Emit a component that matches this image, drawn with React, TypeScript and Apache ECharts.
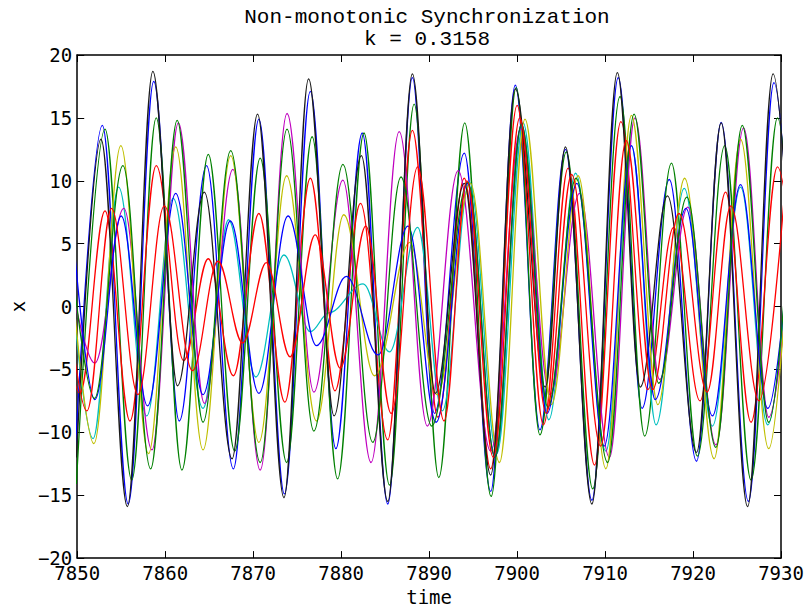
import React, { useEffect, useRef } from "react";
import * as echarts from "echarts";

const titleLines = ["Non-monotonic Synchronization", "k = 0.3158"];
const xName = "time";
const yName = "x";
const xRange = [7850, 7930];
const yRange = [-20, 20];

// extrema of each oscillator: [time, x]
const blue1: [number, number][] = [[7849.7,-12.5],[7852.86,14.4],[7855.8,-15.7],[7858.7,17.9],[7861.6,-9.1],[7864.7,11.2],[7867.75,-12.9],[7870.65,14.9],[7873.55,-14.9],[7876.5,17.1],[7879.4,-11.3],[7882.4,13.8],[7885.3,-15.7],[7888.1,18.2],[7890.6,-8.5],[7894.0,12.2],[7897.0,-14.7],[7899.8,17.6],[7902.6,-9.8],[7905.5,12.5],[7908.5,-15.4],[7911.5,18.2],[7914.2,-8.1],[7917.3,10.1],[7920.4,-12.3],[7923.2,14.65],[7926.3,-15.5],[7929.2,17.8],[7932.0,-8]];
const green1: [number, number][] = [[7849.9,-14.1],[7853.16,14.1],[7856.2,-13.8],[7858.98,15.0],[7861.9,-13.0],[7864.9,12.1],[7867.9,-11.5],[7870.8,11.8],[7873.8,-12.4],[7876.7,13.5],[7879.6,-13.7],[7882.6,13.8],[7885.5,-14.2],[7888.3,16.1],[7891.1,-13.6],[7894.05,14.6],[7897.05,-15.1],[7899.9,17.4],[7902.6,-10.2],[7905.6,12.3],[7908.6,-14.5],[7911.7,16.7],[7914.5,-10.3],[7917.55,11.4],[7920.5,-11.9],[7923.6,12.8],[7926.6,-13.8],[7929.6,15.0],[7932.5,-12]];
const red1: [number, number][] = [[7847.4,6],[7850.3,-6.9],[7853.16,7.6],[7856.0,-9.1],[7858.98,11.2],[7862.1,-4.3],[7864.9,3.8],[7867.75,-5.5],[7870.65,7.4],[7873.6,-7.6],[7876.5,10.2],[7879.3,-6.7],[7882.2,8.2],[7885.3,-10.6],[7888.1,14.0],[7891.0,-8.8],[7894.0,10.2],[7897.0,-12.9],[7900.0,16.0],[7903.0,-9.4],[7905.8,11.0],[7908.8,-12.6],[7911.8,14.7],[7914.85,-6.6],[7917.8,6.3],[7920.8,-7.5],[7923.7,9.1],[7926.6,-9.2],[7929.6,11.1],[7932.6,-6]];
const cyan: [number, number][] = [[7848.8,6],[7851.8,-10.5],[7854.7,9.5],[7857.9,-8.7],[7860.9,8.6],[7864.3,-8.1],[7867.2,6.9],[7870.3,-5.6],[7873.5,4.1],[7876.5,-2.0],[7878.6,-0.5],[7882.5,1.8],[7885.5,-3.6],[7888.7,6.3],[7891.5,-8.3],[7894.6,9.9],[7897.7,-11.7],[7900.7,14.6],[7903.6,-9.0],[7906.65,10.6],[7910.1,-11.5],[7913.0,12.8],[7915.8,-9.4],[7919.0,9.4],[7922.2,-9.5],[7925.4,9.5],[7928.5,-9.4],[7931.5,9]];
const magenta: [number, number][] = [[7849.0,3],[7852.0,-4.5],[7855.3,7.8],[7858.5,-11.4],[7861.5,14.6],[7864.45,-7.7],[7867.7,10.9],[7870.8,-13.0],[7873.85,15.35],[7876.9,-6.8],[7880.2,10.05],[7883.4,-12.4],[7886.6,13.9],[7889.8,-9.5],[7893.3,10.8],[7897.0,-11.5],[7900.4,14.1],[7903.75,-7.0],[7907.1,9.0],[7910.5,-12.0],[7913.4,15.0],[7916.2,-5.8],[7919.4,7.9],[7922.6,-11.0],[7925.75,14.2],[7928.6,-8.8],[7931.8,10]];
const yellow: [number, number][] = [[7848.8,7],[7851.9,-10.9],[7854.96,12.8],[7858.1,-11.7],[7861.2,12.7],[7864.3,-11.4],[7867.45,12.0],[7870.65,-10.8],[7873.8,10.4],[7877.2,-9.1],[7880.3,7.3],[7883.8,-5.5],[7887.8,5.1],[7890.9,-7.0],[7894.7,9.8],[7898.0,-12.4],[7900.9,14.9],[7903.9,-7.8],[7906.95,10.4],[7910.1,-12.9],[7913.0,15.2],[7916.0,-7.8],[7919.05,10.2],[7922.4,-12.1],[7925.4,13.3],[7928.6,-11.3],[7931.6,12]];
const black: [number, number][] = [[7849.9,-12],[7852.7,13.3],[7855.7,-15.9],[7858.6,18.7],[7861.4,-6.3],[7864.45,9.1],[7867.6,-12.1],[7870.5,15.3],[7873.5,-15.2],[7876.3,18.1],[7879.2,-8.7],[7882.3,12.0],[7885.3,-15.5],[7888.1,18.5],[7890.7,-6.9],[7894.0,9.8],[7897.0,-13.4],[7899.8,17.3],[7903.2,-6.4],[7905.5,12.7],[7908.5,-15.7],[7911.4,18.6],[7914.0,-6.4],[7917.1,8.8],[7920.4,-11.6],[7923.2,14.6],[7926.2,-15.9],[7929.1,18.5],[7931.8,-6]];
const blue2: [number, number][] = [[7849.5,6],[7852.0,-7.4],[7855.0,7.2],[7858.0,-7.9],[7861.2,9.0],[7864.3,-7.0],[7867.4,6.8],[7870.65,-6.9],[7873.96,7.2],[7877.2,-3.1],[7880.6,2.4],[7884.2,-3.85],[7887.6,6.4],[7890.8,-9.2],[7894.4,9.8],[7897.5,-12.0],[7900.5,14.5],[7903.4,-8.5],[7906.8,9.8],[7909.9,-11.1],[7913.0,12.8],[7915.7,-7.4],[7919.2,7.8],[7922.2,-8.7],[7925.4,9.7],[7928.5,-8.1],[7931.5,9]];
const green2: [number, number][] = [[7849.0,6],[7851.96,-7.3],[7855.2,11.2],[7858.35,-12.9],[7861.36,14.8],[7864.3,-9.2],[7867.45,12.4],[7870.8,-12.4],[7873.85,14.1],[7876.9,-9.9],[7880.2,11.3],[7883.6,-10.8],[7886.8,10.3],[7890.3,-9.5],[7894.4,9.9],[7897.5,-12.0],[7900.5,14.5],[7903.5,-8.0],[7906.7,10.2],[7910.3,-12.4],[7913.3,15.3],[7916.1,-6.1],[7919.3,8.7],[7922.6,-11.2],[7925.6,14.4],[7928.6,-9.2],[7931.6,13]];
const red2: [number, number][] = [[7848.2,5],[7851.1,-8.3],[7853.9,7.8],[7856.9,-7.0],[7859.9,8.0],[7863.1,-5.1],[7866.0,3.6],[7868.8,-2.9],[7871.5,3.5],[7874.2,-4.0],[7877.05,5.7],[7879.9,-4.9],[7882.8,6.4],[7885.7,-8.5],[7888.7,11.1],[7891.7,-9.1],[7894.3,10.0],[7897.3,-12.0],[7900.3,15.0],[7903.3,-8.5],[7906.2,10.5],[7909.5,-11.1],[7912.4,13.2],[7915.4,-6.6],[7918.4,7.4],[7921.6,-6.8],[7924.3,8.0],[7927.5,-7.5],[7930.4,9]];

const seriesList = [
  { name: "osc1", data: blue1, color: "#0000ff" },
  { name: "osc2", data: green1, color: "#008000" },
  { name: "osc3", data: red1, color: "#ff0000" },
  { name: "osc4", data: cyan, color: "#00bfbf" },
  { name: "osc5", data: magenta, color: "#bf00bf" },
  { name: "osc6", data: yellow, color: "#bfbf00" },
  { name: "osc7", data: black, color: "#1a1a1a" },
  { name: "osc8", data: blue2, color: "#0000ff" },
  { name: "osc9", data: green2, color: "#008000" },
  { name: "osc10", data: red2, color: "#ff0000" },
];

const TITLE_FONT = "Liberation Mono";
const FONT = "DejaVu Sans Mono";
const fmt = (v: number) => (v < 0 ? "\u2212" + Math.abs(v) : String(v));

export default function App() {
  const ref = useRef<HTMLDivElement>(null);
  useEffect(() => {
    const chart = echarts.init(ref.current!, null, { renderer: "svg" });
    const tickStyle = { inside: true, length: 7, lineStyle: { color: "#000", width: 1 } };
    const lineStyle = { show: true, onZero: false, lineStyle: { color: "#000", width: 1.5 } };
    chart.setOption({
      animation: false,
      backgroundColor: "#fff",
      grid: { left: 72, right: 28, top: 55, bottom: 47, containLabel: false },
      graphic: [
        { type: "text", x: 427, y: 7, style: { text: titleLines[0], textAlign: "center", fontFamily: TITLE_FONT, fontSize: 21, fill: "#000" } },
        { type: "text", x: 427, y: 29, style: { text: titleLines[1], textAlign: "center", fontFamily: TITLE_FONT, fontSize: 21, fill: "#000" } },
      ],
      xAxis: [
        {
          type: "value", min: xRange[0], max: xRange[1], interval: 10, position: "bottom",
          axisLine: lineStyle, axisTick: tickStyle, splitLine: { show: false },
          axisLabel: { color: "#000", fontFamily: FONT, fontSize: 19, margin: 5, formatter: fmt },
          name: xName, nameLocation: "middle", nameGap: 24,
          nameTextStyle: { color: "#000", fontFamily: FONT, fontSize: 19 },
        },
        {
          type: "value", min: xRange[0], max: xRange[1], interval: 10, position: "top",
          axisLine: lineStyle, axisTick: tickStyle, splitLine: { show: false }, axisLabel: { show: false },
        },
      ],
      yAxis: [
        {
          type: "value", min: yRange[0], max: yRange[1], interval: 5, position: "left",
          axisLine: lineStyle, axisTick: tickStyle, splitLine: { show: false },
          axisLabel: { color: "#000", fontFamily: FONT, fontSize: 19, margin: 5, formatter: fmt },
          name: yName, nameLocation: "middle", nameGap: 50,
          nameTextStyle: { color: "#000", fontFamily: FONT, fontSize: 19 },
        },
        {
          type: "value", min: yRange[0], max: yRange[1], interval: 5, position: "right",
          axisLine: lineStyle, axisTick: tickStyle, splitLine: { show: false }, axisLabel: { show: false },
        },
      ],
      series: seriesList.map((s) => ({
        name: s.name, type: "line", data: s.data, xAxisIndex: 0, yAxisIndex: 0,
        showSymbol: false, smooth: 0.36, smoothMonotone: "x", clip: true,
        lineStyle: { color: s.color, width: 1.3 }, itemStyle: { color: s.color },
      })),
    });
    return () => chart.dispose();
  }, []);
  return <div ref={ref} style={{ position: "fixed", left: 0, top: 0, width: 809, height: 611 }} />;
}
